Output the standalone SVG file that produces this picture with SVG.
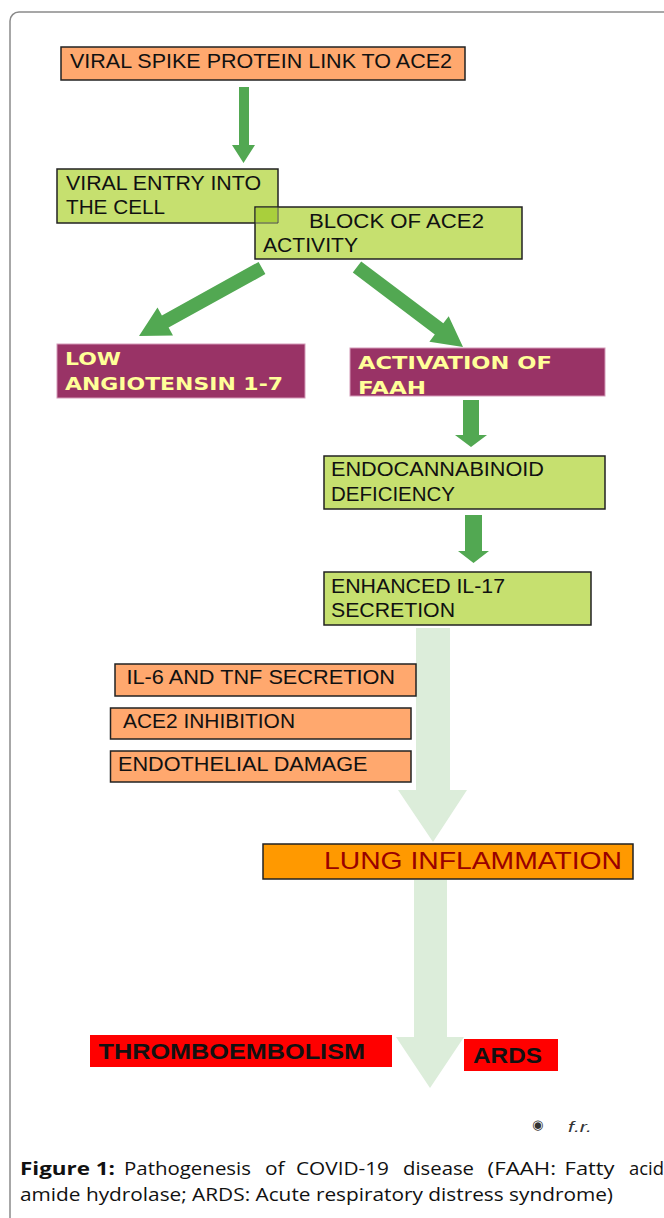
<svg xmlns="http://www.w3.org/2000/svg" width="664" height="1218" viewBox="0 0 664 1218">
<style>
.bx{stroke:#222;stroke-width:1.5}
.or{fill:#FFA86E}
.gr{fill:#C6E06F}
.mr{fill:#993366;stroke:#D49AB8;stroke-width:1}
.t{font-family:"Liberation Sans",Arial,sans-serif;font-size:20.5px;fill:#111}
.ty{font-family:"DejaVu Sans","Liberation Sans",sans-serif;font-weight:bold;font-size:18px;fill:#FFFF99}
.tr{font-family:"Liberation Sans",Arial,sans-serif;font-weight:bold;font-size:22px;fill:#111}
.cap{font-family:"Open Sans","Liberation Sans",sans-serif;font-size:18.5px;fill:#111}
.ga{fill:#52A852}
.la{fill:#DCEDDA}
</style>
<rect width="664" height="1218" fill="#fff"/>
<rect x="10" y="12" width="700" height="1260" rx="9" ry="9" fill="none" stroke="#8a8a8a" stroke-width="1.5"/>

<g id="connectors">
  <polygon class="la" points="416,628 450,628 450,790 467,790 433,842 398,790 416,790"/>
  <polygon class="la" points="414,880 447,880 447,1037 464,1037 430,1088 396,1037 414,1037"/>
  <polygon class="ga" points="239,87 249,87 249,145 255,145 243.5,163 232,145 239,145"/>
  <polygon class="ga" points="265.4,274.1 168.6,327.6 173,335.5 139,336 157.5,307.5 161.9,315.4 258.6,261.9"/>
  <polygon class="ga" points="352.8,272.6 434.8,334.5 429.4,341.7 463,347 448.7,316.2 443.3,323.3 361.2,261.4"/>
  <polygon class="ga" points="463,400 479,400 479,435 487,435 471,447 455,435 463,435"/>
  <polygon class="ga" points="465,515 482,515 482,551 489,551 473.5,563 458,551 465,551"/>
</g>

<g id="n1">
  <rect class="bx or" x="61" y="47" width="404" height="33"/>
  <text class="t" x="70" y="68" textLength="382" lengthAdjust="spacingAndGlyphs">VIRAL SPIKE PROTEIN LINK TO ACE2</text>
</g>
<g id="n2">
  <rect class="bx gr" x="57" y="169" width="221" height="54"/>
  <text class="t" x="66" y="190" textLength="195" lengthAdjust="spacingAndGlyphs">VIRAL ENTRY INTO</text>
  <text class="t" x="66" y="214" textLength="99" lengthAdjust="spacingAndGlyphs">THE CELL</text>
</g>
<g id="n3">
  <rect class="bx gr" x="255" y="207" width="267" height="52"/>
  <rect x="255.75" y="207.75" width="21.5" height="14.5" fill="#A9CF3C"/>
  <path d="M255,223 H278 V207" fill="none" stroke="#444" stroke-width="1"/>
  <text class="t" x="309" y="228" textLength="175" lengthAdjust="spacingAndGlyphs">BLOCK OF ACE2</text>
  <text class="t" x="263" y="252" textLength="95" lengthAdjust="spacingAndGlyphs">ACTIVITY</text>
</g>
<g id="n4">
  <rect class="mr" x="57" y="344" width="248" height="54"/>
  <text class="ty" x="65" y="365" textLength="56" lengthAdjust="spacingAndGlyphs">LOW</text>
  <text class="ty" x="65" y="390" textLength="218" lengthAdjust="spacingAndGlyphs">ANGIOTENSIN 1-7</text>
</g>
<g id="n5">
  <rect class="mr" x="350" y="348" width="255" height="48"/>
  <text class="ty" x="358" y="369" textLength="194" lengthAdjust="spacingAndGlyphs">ACTIVATION OF</text>
  <text class="ty" x="358" y="394" textLength="68" lengthAdjust="spacingAndGlyphs">FAAH</text>
</g>
<g id="n6">
  <rect class="bx gr" x="324" y="456" width="281" height="53"/>
  <text class="t" x="331" y="476" textLength="213" lengthAdjust="spacingAndGlyphs">ENDOCANNABINOID</text>
  <text class="t" x="331" y="501" textLength="124" lengthAdjust="spacingAndGlyphs">DEFICIENCY</text>
</g>
<g id="n7">
  <rect class="bx gr" x="324" y="572" width="267" height="53"/>
  <text class="t" x="331" y="593" textLength="174" lengthAdjust="spacingAndGlyphs">ENHANCED IL-17</text>
  <text class="t" x="331" y="617" textLength="124" lengthAdjust="spacingAndGlyphs">SECRETION</text>
</g>
<g id="n8">
  <rect class="bx or" x="115" y="664" width="301" height="32"/>
  <text class="t" x="126.5" y="684" textLength="268.5" lengthAdjust="spacingAndGlyphs">IL-6 AND TNF SECRETION</text>
</g>
<g id="n9">
  <rect class="bx or" x="110.5" y="708" width="300.5" height="31"/>
  <text class="t" x="123" y="728" textLength="172" lengthAdjust="spacingAndGlyphs">ACE2 INHIBITION</text>
</g>
<g id="n10">
  <rect class="bx or" x="110.5" y="751" width="300.5" height="31"/>
  <text class="t" x="118" y="771" textLength="249.5" lengthAdjust="spacingAndGlyphs">ENDOTHELIAL DAMAGE</text>
</g>
<g id="n11">
  <rect class="bx" fill="#FF9900" x="263" y="844" width="370" height="35"/>
  <text x="324" y="869" textLength="298" lengthAdjust="spacingAndGlyphs" style="font-family:'Liberation Sans',Arial,sans-serif;font-size:24px;fill:#990000">LUNG INFLAMMATION</text>
</g>
<g id="n12">
  <rect fill="#FF0000" x="90" y="1035" width="302" height="32"/>
  <text class="tr" x="98.5" y="1059" textLength="266.5" lengthAdjust="spacingAndGlyphs">THROMBOEMBOLISM</text>
</g>
<g id="n13">
  <rect fill="#FF0000" x="464" y="1039" width="94" height="32"/>
  <text class="tr" x="473" y="1063" textLength="69" lengthAdjust="spacingAndGlyphs">ARDS</text>
</g>

<text x="532" y="1129" style="font-family:'DejaVu Sans',sans-serif;font-size:13px;fill:#333">◉</text>
<text x="568" y="1132" textLength="24" lengthAdjust="spacingAndGlyphs" style="font-family:'Liberation Sans',sans-serif;font-style:italic;font-size:15px;fill:#333">f.r.</text>

<g id="caption" class="cap">
  <text x="20" y="1175" textLength="95" lengthAdjust="spacingAndGlyphs" font-weight="bold">Figure 1:</text>
  <text x="124" y="1175" textLength="127" lengthAdjust="spacingAndGlyphs">Pathogenesis</text>
  <text x="265" y="1175" textLength="19.6" lengthAdjust="spacingAndGlyphs">of</text>
  <text x="296" y="1175" textLength="93" lengthAdjust="spacingAndGlyphs">COVID-19</text>
  <text x="403" y="1175" textLength="71" lengthAdjust="spacingAndGlyphs">disease</text>
  <text x="487.6" y="1175" textLength="68.4" lengthAdjust="spacingAndGlyphs">(FAAH:</text>
  <text x="564.6" y="1175" textLength="50" lengthAdjust="spacingAndGlyphs">Fatty</text>
  <text x="629" y="1175" textLength="35" lengthAdjust="spacingAndGlyphs">acid</text>
  <text x="20" y="1201" textLength="593" lengthAdjust="spacingAndGlyphs">amide hydrolase; ARDS: Acute respiratory distress syndrome)</text>
</g>
</svg>
